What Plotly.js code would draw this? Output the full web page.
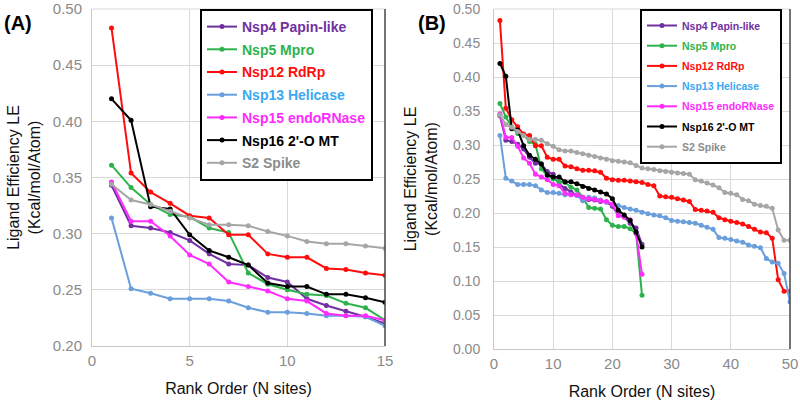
<!DOCTYPE html>
<html>
<head>
<meta charset="utf-8">
<script src="https://cdn.plot.ly/plotly-3.0.1.min.js"></script>
<style>html,body{margin:0;padding:0;background:#fff;}#chart{width:800px;height:404px;}</style>
</head>
<body>
<div id="chart"></div>
<script>
// Series names
const seriesNames = ["Nsp4 Papin-like", "Nsp5 Mpro", "Nsp12 RdRp", "Nsp13 Helicase", "Nsp15 endoRNase", "Nsp16 2'-O MT", "S2 Spike"];

// Ligand efficiency values by rank (rank 1..N)
const nsp4 = [0.343, 0.307, 0.305, 0.301, 0.294, 0.282, 0.273, 0.272, 0.261, 0.257, 0.242, 0.236, 0.231, 0.226, 0.220,
  0.220, 0.219, 0.217, 0.216, 0.210, 0.197, 0.194, 0.185, 0.178, 0.154];
const nsp5 = [0.361, 0.341, 0.326, 0.317, 0.315, 0.305, 0.301, 0.265, 0.255, 0.250, 0.246, 0.245, 0.238, 0.234, 0.223,
  0.208, 0.207, 0.206, 0.190, 0.182, 0.180, 0.180, 0.177, 0.170, 0.079];
const nsp12 = [0.483, 0.354, 0.337, 0.327, 0.316, 0.314, 0.299, 0.299, 0.282, 0.279, 0.279, 0.269, 0.268, 0.265, 0.263,
  0.263, 0.262, 0.260, 0.251, 0.249, 0.248, 0.248, 0.247, 0.246, 0.245, 0.242, 0.240, 0.225, 0.224, 0.223,
  0.221, 0.219, 0.217, 0.205, 0.204, 0.203, 0.201, 0.193, 0.190, 0.188, 0.186, 0.184, 0.180, 0.176, 0.172,
  0.171, 0.163, 0.102, 0.085, 0.085];
const nsp13 = [0.314, 0.251, 0.247, 0.242, 0.242, 0.242, 0.240, 0.234, 0.230, 0.230, 0.229, 0.227, 0.227, 0.226, 0.218,
  0.223, 0.222, 0.219, 0.216, 0.213, 0.211, 0.208, 0.206, 0.204, 0.201, 0.199, 0.197, 0.196, 0.193, 0.189,
  0.188, 0.187, 0.186, 0.185, 0.182, 0.179, 0.176, 0.164, 0.163, 0.161, 0.159, 0.157, 0.153, 0.151, 0.149,
  0.133, 0.128, 0.126, 0.111, 0.069];
const nsp15 = [0.346, 0.311, 0.311, 0.298, 0.281, 0.273, 0.257, 0.253, 0.249, 0.242, 0.240, 0.229, 0.227, 0.227, 0.223,
  0.221, 0.220, 0.218, 0.217, 0.213, 0.196, 0.194, 0.190, 0.170, 0.110];
const nsp16 = [0.420, 0.401, 0.324, 0.322, 0.299, 0.285, 0.279, 0.272, 0.256, 0.253, 0.253, 0.246, 0.246, 0.243, 0.239,
  0.236, 0.234, 0.231, 0.228, 0.221, 0.204, 0.197, 0.189, 0.172, 0.150];
const s2 = [0.344, 0.330, 0.326, 0.320, 0.314, 0.308, 0.308, 0.307, 0.302, 0.298, 0.293, 0.291, 0.291, 0.289, 0.287,
  0.285, 0.283, 0.281, 0.279, 0.277, 0.276, 0.275, 0.274, 0.270, 0.266, 0.265, 0.264, 0.262, 0.261, 0.260,
  0.259, 0.258, 0.257, 0.249, 0.247, 0.244, 0.241, 0.237, 0.230, 0.229, 0.227, 0.220, 0.218, 0.213, 0.211,
  0.210, 0.207, 0.175, 0.160, 0.160];

const seriesValues = [nsp4, nsp5, nsp12, nsp13, nsp15, nsp16, s2];
const panelANSites = 15;

const lineColors = ["#7030a0", "#2eb34c", "#ff0d0d", "#6a9fdc", "#ff2bff", "#000000", "#a6a6a6"];
const textColors = ["#7030a0", "#2eb34c", "#ff0d0d", "#3aa8f2", "#ff2bff", "#000000", "#8c8c8c"];

const ranks = n => Array.from({length: n}, (_, i) => i + 1);

const traces = [];
seriesValues.forEach((vals, i) => {
  const a = vals.slice(0, panelANSites);
  traces.push({
    x: ranks(a.length), y: a, xaxis: 'x', yaxis: 'y',
    type: 'scatter', mode: 'lines+markers',
    name: '<b><span style="color:' + textColors[i] + '">' + seriesNames[i] + '</span></b>',
    legend: 'legend', legendgroup: 'a' + i,
    line: {color: lineColors[i], width: 2},
    marker: {color: lineColors[i], size: 5}
  });
});
seriesValues.forEach((vals, i) => {
  traces.push({
    x: ranks(vals.length), y: vals, xaxis: 'x2', yaxis: 'y2',
    type: 'scatter', mode: 'lines+markers',
    name: '<b><span style="color:' + textColors[i] + '">' + seriesNames[i] + '</span></b>',
    legend: 'legend2', legendgroup: 'b' + i,
    line: {color: lineColors[i], width: 2},
    marker: {color: lineColors[i], size: 5}
  });
});

const tickFont = {family: 'Liberation Sans, Arial, sans-serif', size: 15, color: '#8a8a8a'};
const titleFont = {family: 'Liberation Sans, Arial, sans-serif', size: 16, color: '#111'};
const yTitle = 'Ligand Efficiency LE<br>(Kcal/mol/Atom)';
const xTitle = 'Rank Order (N sites)';

const axisCommon = {
  showgrid: true, gridcolor: '#d9d9d9', gridwidth: 1,
  showline: true, linecolor: '#c8c8c8', linewidth: 1,
  zeroline: false, ticks: '', tickfont: tickFont, automargin: false,
  ticklabeloverflow: 'allow'
};

const layout = {
  width: 800, height: 404,
  margin: {l: 0, r: 0, t: 0, b: 0, autoexpand: false},
  paper_bgcolor: '#fff', plot_bgcolor: '#fff',
  font: {family: 'Liberation Sans, Arial, sans-serif'},
  xaxis: Object.assign({}, axisCommon, {
    domain: [92/800, 385/800], range: [0, 15], tickvals: [0, 5, 10, 15], anchor: 'y',
    ticklabelstandoff: 1,
    title: {text: xTitle, font: titleFont, standoff: 14}
  }),
  yaxis: Object.assign({}, axisCommon, {
    domain: [1 - 346/404, 1 - 9/404], range: [0.2, 0.5], tickvals: [0.2, 0.25, 0.3, 0.35, 0.4, 0.45, 0.5],
    tickformat: '.2f', anchor: 'x', ticklabelstandoff: 6,
    title: {text: yTitle, font: titleFont, standoff: 8}
  }),
  xaxis2: Object.assign({}, axisCommon, {
    domain: [494/800, 790/800], range: [0, 50], tickvals: [0, 10, 20, 30, 40, 50], anchor: 'y2',
    ticklabelstandoff: 1,
    title: {text: xTitle, font: titleFont, standoff: 14}
  }),
  yaxis2: Object.assign({}, axisCommon, {
    domain: [1 - 349/404, 1 - 9/404], range: [0, 0.5],
    tickvals: [0, 0.05, 0.1, 0.15, 0.2, 0.25, 0.3, 0.35, 0.4, 0.45, 0.5],
    tickformat: '.2f', anchor: 'x2', ticklabelstandoff: 10,
    tickfont: Object.assign({}, tickFont, {size: 14}),
    title: {text: yTitle, font: titleFont, standoff: 11}
  }),
  legend: {
    xref: 'paper', yref: 'paper', x: 200/800, y: 1 - 9/404, xanchor: 'left', yanchor: 'top',
    bgcolor: '#fff', bordercolor: '#000', borderwidth: 2,
    font: {family: 'Liberation Sans, Arial, sans-serif', size: 14, color: '#000'},
    tracegroupgap: 1.5, itemwidth: 30
  },
  legend2: {
    xref: 'paper', yref: 'paper', x: 640/800, y: 1 - 9/404, xanchor: 'left', yanchor: 'top',
    bgcolor: '#fff', bordercolor: '#000', borderwidth: 2,
    font: {family: 'Liberation Sans, Arial, sans-serif', size: 10.5, color: '#000'},
    tracegroupgap: 1.2, itemwidth: 30
  },
  shapes: [
    {type: 'line', xref: 'x domain', yref: 'y domain', x0: 0, x1: 1, y0: 1, y1: 1, line: {color: '#d9d9d9', width: 1}},
    {type: 'line', xref: 'x2 domain', yref: 'y2 domain', x0: 0, x1: 1, y0: 1, y1: 1, line: {color: '#d9d9d9', width: 1}},
    {type: 'line', xref: 'x domain', yref: 'y domain', x0: 1, x1: 1, y0: 0, y1: 1, line: {color: '#444', width: 1.5}},
    {type: 'line', xref: 'x2 domain', yref: 'y2 domain', x0: 1, x1: 1, y0: 0, y1: 1, line: {color: '#444', width: 1.5}}
  ],
  annotations: [
    {text: '<b>(A)</b>', xref: 'paper', yref: 'paper', x: 2/800, y: 1 - 10/404, xanchor: 'left', yanchor: 'top',
     showarrow: false, font: {family: 'Liberation Sans, Arial, sans-serif', size: 20, color: '#000'}},
    {text: '<b>(B)</b>', xref: 'paper', yref: 'paper', x: 416/800, y: 1 - 10/404, xanchor: 'left', yanchor: 'top',
     showarrow: false, font: {family: 'Liberation Sans, Arial, sans-serif', size: 20, color: '#000'}}
  ]
};

Plotly.newPlot('chart', traces, layout, {displayModeBar: false, staticPlot: true});
</script>
</body>
</html>
